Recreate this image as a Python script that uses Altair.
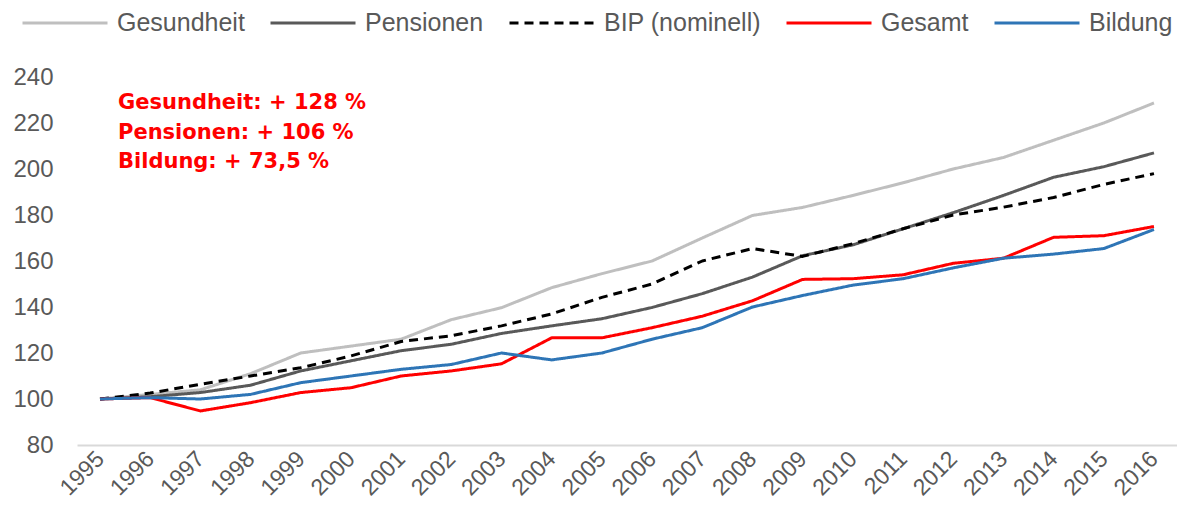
import altair as alt
import pandas as pd

years = list(range(1995, 2017))
series_names = ["Gesundheit", "Pensionen", "BIP (nominell)", "Gesamt", "Bildung"]
series_colors = ["#BFBFBF", "#595959", "#000000", "#FF0000", "#2E75B6"]
series_dashes = [[1, 0], [1, 0], [9, 6], [1, 0], [1, 0]]
series_widths = [3, 3, 3.5, 3, 3]

gesundheit = [100, 102, 104, 111, 120, 123, 126, 134.5, 139.7, 148.4, 154.5, 160,
              170, 179.8, 183.3, 188.5, 194, 200, 205, 212.5, 220, 228.7]
pensionen = [100, 101, 102.8, 106, 112.2, 116.6, 121, 123.8, 128.5, 131.8, 134.9, 139.8,
             145.8, 153, 162.3, 167, 174, 181, 188.5, 196.4, 201, 207]
bip = [100, 102.6, 106.4, 110, 113.6, 118.7, 125, 127.5, 131.8, 137, 144.2, 150,
       160, 165.4, 162, 167.5, 174, 180, 183.4, 187.6, 193.3, 198]
gesamt = [100, 100.6, 94.8, 98.4, 102.8, 104.9, 110, 112.2, 115.3, 126.6, 126.6, 131,
          136, 142.7, 152, 152.3, 154, 159, 161.2, 170.3, 171, 175]
bildung = [100, 100.6, 100, 102, 107.1, 110, 112.9, 115, 120, 117, 120, 126,
           131, 140, 145, 149.5, 152.3, 157, 161.2, 163, 165.4, 173.7]

y_ticks = [80, 100, 120, 140, 160, 180, 200, 220, 240]
annotation = "Gesundheit: + 128 %\nPensionen: + 106 %\nBildung: + 73,5 %"

all_values = [gesundheit, pensionen, bip, gesamt, bildung]
rows = []
for name, vals in zip(series_names, all_values):
    for yr, v in zip(years, vals):
        rows.append({"Jahr": yr, "Wert": v, "Serie": name})
df = pd.DataFrame(rows)

axis_font = "Liberation Sans"

lines = alt.Chart(df).mark_line(strokeJoin="round").encode(
    x=alt.X("Jahr:Q",
            scale=alt.Scale(domain=[1994.542, 2016.459], nice=False, zero=False),
            axis=alt.Axis(values=years, format="d", title=None, labelAngle=-45,
                          labelAlign="right", labelBaseline="middle",
                          labelFontSize=23, labelFont=axis_font, labelColor="#595959",
                          labelPadding=10, ticks=False, grid=False,
                          domainColor="#D9D9D9", domainWidth=2, labelOverlap=False)),
    y=alt.Y("Wert:Q",
            scale=alt.Scale(domain=[80, 240], nice=False, zero=False),
            axis=alt.Axis(values=y_ticks, title=None, grid=False, ticks=False,
                          domain=False, labelFontSize=24, labelFont=axis_font,
                          labelColor="#595959", labelPadding=24)),
    color=alt.Color("Serie:N",
                    scale=alt.Scale(domain=series_names, range=series_colors),
                    sort=series_names,
                    legend=alt.Legend(title=None, orient="none", legendX=-56, legendY=-98,
                                      direction="horizontal", columns=5,
                                      symbolType="stroke", symbolSize=7225,
                                      symbolStrokeWidth=3, labelFontSize=25,
                                      labelFont=axis_font, labelColor="#595959",
                                      labelOffset=8, columnPadding=19, labelLimit=400)),
    strokeDash=alt.StrokeDash("Serie:N",
                              scale=alt.Scale(domain=series_names, range=series_dashes),
                              sort=series_names, legend=None),
    strokeWidth=alt.StrokeWidth("Serie:N",
                                scale=alt.Scale(domain=series_names, range=series_widths),
                                sort=series_names, legend=None),
)

note = alt.Chart(pd.DataFrame({"t": [annotation]})).mark_text(
    align="left", baseline="top", lineBreak="\n", lineHeight=29.5,
    font="DejaVu Sans", fontWeight="bold", fontSize=21, color="#FF0000"
).encode(x=alt.value(41), y=alt.value(15), text="t:N")

chart = alt.layer(lines, note).properties(
    width=1100, height=368,
    padding={"left": 69, "top": 69, "right": 0, "bottom": 60},
    autosize=alt.AutoSizeParams(type="none"),
    background="white",
).configure_view(stroke=None)

chart.save("out.html", embed_options={"renderer": "svg", "actions": False})
